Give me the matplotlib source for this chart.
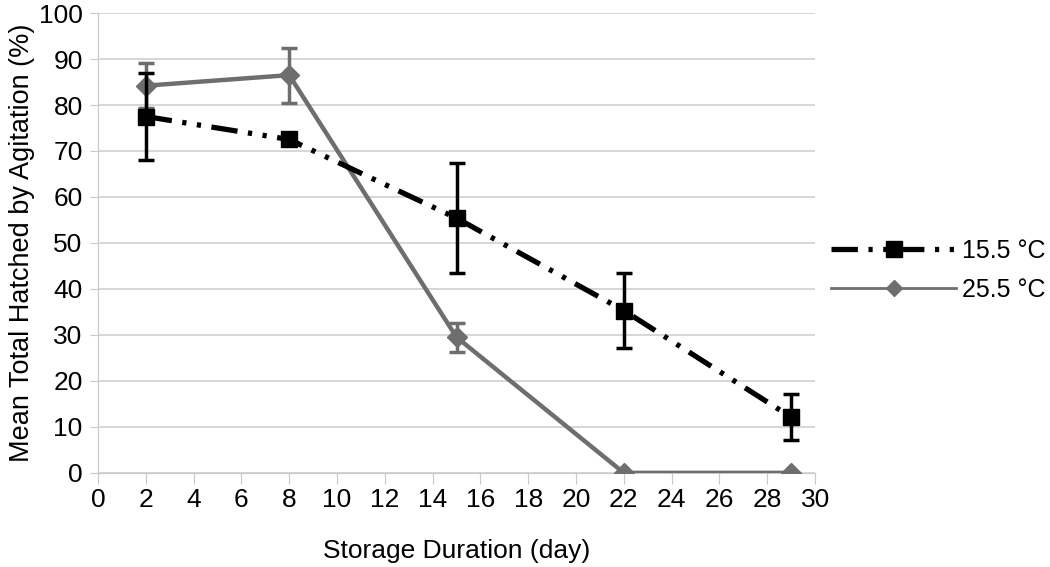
import matplotlib.pyplot as plt
from matplotlib.lines import Line2D
import numpy as np

plt.rcParams['font.family'] = ['Liberation Sans', 'DejaVu Sans']

# Données
jours = [2, 8, 15, 22, 29]
moy_155 = [77.5, 72.5, 55.4, 35.3, 12.1]
err_155 = [9.5, 1.0, 12.0, 8.1, 5.0]
moy_255 = [84.2, 86.5, 29.5, 0.0, 0.0]
err_255 = [4.9, 6.0, 3.2, 0.0, 0.0]
labels = ['15.5 °C', '25.5 °C']

fig = plt.figure(figsize=(10.5, 5.67), dpi=100)
ax = fig.add_axes([0.0933, 0.166, 0.683, 0.811])

gris = '#6e6e6e'
tirets = [5, 2, 0.8, 2, 0.8, 2]

ax.errorbar(jours, moy_255, yerr=err_255, color=gris, ecolor=gris, lw=3.2,
            marker='D', markersize=10.5, capsize=6, capthick=2.5, elinewidth=2.5,
            zorder=3)
ax.errorbar(jours, moy_155, yerr=err_155, color='black', ecolor='black', lw=3.8,
            dashes=tirets, marker='s', markersize=11, capsize=6,
            capthick=2.5, elinewidth=2.5, zorder=4)

ax.set_xlim(0, 30)
ax.set_ylim(0, 100)
ax.set_xticks(np.arange(0, 31, 2))
ax.set_yticks(np.arange(0, 101, 10))
ax.grid(axis='y', color='#d0d0d0', lw=1.2)
ax.set_axisbelow(True)
for s in ['top', 'right']:
    ax.spines[s].set_visible(False)
ax.spines['left'].set_color('#c8c8c8')
ax.spines['bottom'].set_color('#c8c8c8')
ax.tick_params(axis='y', length=6, color='#c8c8c8', labelsize=19, pad=5)
ax.tick_params(axis='x', length=8, color='#c8c8c8', labelsize=19, pad=3)

ax.set_xlabel('Storage Duration (day)', fontsize=19, labelpad=19)
ax.set_ylabel('Mean Total Hatched by Agitation (%)', fontsize=19.5, labelpad=3)

poignees = [
    Line2D([], [], color='black', lw=3.8, dashes=tirets, marker='s', markersize=11),
    Line2D([], [], color=gris, lw=2, marker='D', markersize=8),
]
ax.legend(poignees, labels, loc='center left', bbox_to_anchor=(1.012, 0.44),
          frameon=False, fontsize=18, handlelength=5.0, handletextpad=0.25,
          labelspacing=0.6, borderaxespad=0.1, borderpad=0.2)

fig.savefig('out.png', dpi=100)
